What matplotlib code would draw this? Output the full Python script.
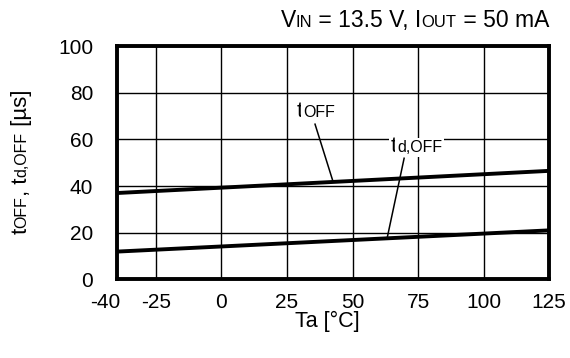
import matplotlib

matplotlib.use("Agg")
import matplotlib.pyplot as plt  # noqa: E402
from matplotlib.font_manager import FontProperties  # noqa: E402
from matplotlib.transforms import ScaledTranslation, offset_copy  # noqa: E402

FAMILY = ["Liberation Sans", "DejaVu Sans"]
plt.rcParams["font.family"] = FAMILY
plt.rcParams["axes.unicode_minus"] = False

# --- data --------------------------------------------------------------------
ta = [-40, 125]
t_off = [37.0, 46.5]
td_off = [11.9, 21.0]

x_ticks = [-40, -25, 0, 25, 50, 75, 100, 125]
y_ticks = [0, 20, 40, 60, 80, 100]

# text pieces as (text, is_subscript)
title_parts = [("V", 0), ("IN", 1), (" = 13.5 V, I", 0), ("OUT", 1), (" = 50 mA", 0)]
ylabel_parts = [("t", 0), ("OFF", 1), (", t", 0), ("d,OFF", 1), (" [µs]", 0)]
toff_parts = [("t", 0), ("OFF", 1)]
tdoff_parts = [("t", 0), ("d,OFF", 1)]

# label start (left, baseline) and leader line ends, in data units
toff_at = (28.7, 69.7)
toff_lead = ([35.7, 42.6], [66.5, 41.8])
tdoff_at = (64.6, 54.6)
tdoff_lead = ([69.7, 63.2], [51.9, 17.6])


def rich_text(fig, ax, x, y, parts, transform, size=16, sub=11.5, ha="left",
              rotation=0, box=False):
    """Draw text with small baseline 'subscripts' (datasheet style), piece by piece."""
    r = fig.canvas.get_renderer()
    sizes = [sub if s else size for _, s in parts]
    widths = [r.get_text_width_height_descent(t, FontProperties(family=FAMILY, size=sz), ismath=False)[0]
              for (t, _), sz in zip(parts, sizes)]
    pos = {"left": 0.0, "center": -sum(widths) / 2, "right": -sum(widths)}[ha]
    for (t, _), sz, w in zip(parts, sizes, widths):
        dx, dy = (pos, 0) if rotation == 0 else (0, pos)
        tr = offset_copy(transform, fig=fig, x=dx * 72 / fig.dpi, y=dy * 72 / fig.dpi, units="points")
        kw = dict(bbox=dict(fc="white", ec="none", pad=1.5)) if box else {}
        ax.text(x, y, t, transform=tr, fontsize=sz, ha="left", va="baseline",
                rotation=rotation, rotation_mode="anchor", zorder=6, clip_on=False, **kw)
        pos += w


fig = plt.figure(figsize=(5.7, 3.58), dpi=100)
ax = fig.add_axes([0.2047, 0.2196, 0.7585, 0.6519])

ax.plot(ta, t_off, color="black", lw=2.8, solid_capstyle="butt", zorder=4)
ax.plot(ta, td_off, color="black", lw=2.8, solid_capstyle="butt", zorder=4)
ax.plot(*toff_lead, color="black", lw=1.1, zorder=5)
ax.plot(*tdoff_lead, color="black", lw=1.1, zorder=5)

ax.set_xlim(-40, 125)
ax.set_ylim(0, 100)
ax.set_xticks(x_ticks)
ax.set_xticklabels([str(v) for v in x_ticks])
ax.set_yticks(y_ticks)
ax.grid(True, color="black", lw=1.0)
ax.set_axisbelow(True)
for s in ax.spines.values():
    s.set_linewidth(2.8)
    s.set_zorder(7)
ax.tick_params(axis="both", length=0, labelsize=15)
ax.tick_params(axis="x", pad=10)
ax.tick_params(axis="y", pad=17)
# the "-40" label sits a bit left of its tick in the reference
lab = ax.get_xticklabels()[0]
lab.set_transform(lab.get_transform() + ScaledTranslation(-11.5 / 100, 0, fig.dpi_scale_trans))

ax.set_xlabel("Ta [°C]", fontsize=15.5)
ax.xaxis.set_label_coords(0.4876, -0.137)

rich_text(fig, ax, 1.0, 1.083, title_parts, ax.transAxes, size=16.5, sub=12, ha="right")
rich_text(fig, ax, 0.0468, 0.5475, ylabel_parts, fig.transFigure, ha="center", rotation=90)
rich_text(fig, ax, *toff_at, toff_parts, ax.transData, box=True)
rich_text(fig, ax, *tdoff_at, tdoff_parts, ax.transData, box=True)

fig.savefig("out.png", dpi=100)
plt.close(fig)
